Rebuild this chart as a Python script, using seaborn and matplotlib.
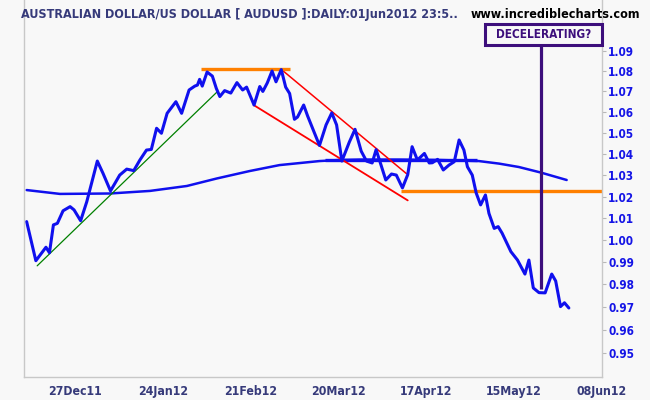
import numpy as np
import pandas as pd
import matplotlib
matplotlib.use("Agg")
import matplotlib.pyplot as plt
import seaborn as sns
from matplotlib.ticker import FixedLocator, FixedFormatter, NullLocator
from matplotlib.patches import Rectangle

# ---------------- data ----------------
title = "AUSTRALIAN DOLLAR/US DOLLAR [ AUDUSD ]:DAILY:01Jun2012 23:5.."
site = "www.incrediblecharts.com"
note = "DECELERATING?"

# trading-day offset from first bar, and close price
day = [0.0, 2.1, 4.4, 5.2, 6.1, 7.0, 8.3, 9.9, 10.8, 12.3, 13.7, 16.1, 17.4, 19.1,
       20.1, 21.2, 22.8, 24.4, 25.8, 27.3, 28.4, 29.6, 30.7, 32.0, 34.0, 35.3,
       37.0, 38.3, 38.9, 39.4, 40.0, 41.1, 42.3, 43.2, 44.0, 45.1, 46.5, 47.9,
       49.2, 50.1, 51.8, 53.1, 53.8, 54.8, 55.9, 56.8, 58.0, 59.0, 59.9, 61.0,
       61.7, 63.1, 64.0, 66.7, 68.2, 69.5, 70.6, 71.8, 73.5, 74.8, 76.2, 77.4,
       78.7, 79.6, 80.8, 81.8, 83.1, 84.2, 85.6, 86.8, 87.8, 89.0, 90.6, 91.7,
       92.4, 93.6, 94.9, 96.2, 97.4, 98.5, 99.6, 100.4, 101.5, 102.4, 103.4,
       104.5, 105.3, 106.5, 107.4, 108.3, 110.3, 111.8, 113.5, 114.4, 115.4,
       116.7, 118.1, 119.6, 120.5, 121.6, 122.5, 123.5]
close = [1.0084, 0.9906, 0.9967, 0.9942, 1.0069, 1.0076, 1.0134, 1.0153, 1.0138,
         1.0088, 1.0176, 1.0366, 1.0308, 1.0226, 1.0261, 1.0300, 1.0328, 1.0321,
         1.0371, 1.0418, 1.0421, 1.0522, 1.0498, 1.0594, 1.0650, 1.0594, 1.0707,
         1.0726, 1.0731, 1.0759, 1.0726, 1.0795, 1.0775, 1.0715, 1.0675, 1.0704,
         1.0692, 1.0743, 1.0707, 1.0721, 1.0634, 1.0724, 1.0700, 1.0741, 1.0800,
         1.0747, 1.0807, 1.0721, 1.0690, 1.0565, 1.0576, 1.0634, 1.0581, 1.0440,
         1.0538, 1.0596, 1.0538, 1.0366, 1.0456, 1.0517, 1.0413, 1.0366, 1.0357,
         1.0420, 1.0342, 1.0277, 1.0305, 1.0300, 1.0240, 1.0302, 1.0434, 1.0371,
         1.0402, 1.0357, 1.0358, 1.0374, 1.0324, 1.0347, 1.0363, 1.0466, 1.0418,
         1.0339, 1.0300, 1.0216, 1.0161, 1.0207, 1.0122, 1.0053, 1.0061, 1.0031,
         0.9947, 0.9909, 0.9846, 0.9909, 0.9784, 0.9763, 0.9762, 0.9846, 0.9815,
         0.9701, 0.9718, 0.9695]

# moving average
ma_day = [0.0, 7.6, 19.0, 28.1, 36.5, 43.3, 50.8, 57.6, 66.7, 71.2, 75.8, 84.9,
          94.0, 103.0, 107.6, 112.1, 117.1, 123.0]
ma = [1.0230, 1.0212, 1.0214, 1.0226, 1.0249, 1.0284, 1.0319, 1.0347, 1.0366,
      1.0371, 1.0373, 1.0373, 1.0371, 1.0366, 1.0354, 1.0338, 1.0312, 1.0277]

tick_days = [11, 31, 51, 71, 91, 111, 131]
tick_labels = ["27Dec11", "24Jan12", "21Feb12", "20Mar12", "17Apr12", "15May12", "08Jun12"]
price_ticks = [0.95, 0.96, 0.97, 0.98, 0.99, 1.00, 1.01, 1.02, 1.03, 1.04,
               1.05, 1.06, 1.07, 1.08, 1.09]

# drawn trend lines
green_x, green_y = [2.4, 43.3], [0.9883, 1.0696]
resist_x, resist_y = [39.8, 60.1], [1.0808, 1.0808]
support_x, support_y = [85.3, 131.0], [1.0226, 1.0226]
chan_up_x, chan_up_y = [58.0, 86.5], [1.0808, 1.0307]
chan_lo_x, chan_lo_y = [51.7, 86.8], [1.0634, 1.0182]
flat_x, flat_y = [68.0, 102.6], [1.0371, 1.0371]
marker_day, marker_lo, marker_hi = 117.2, 0.9777, 1.0930

# ---------------- styling ----------------
sns.set_style("white")
BG = "#f8f8f8"
BLUE = "#1010ee"
PURPLE = "#3d0f7c"
NAVY = "#363a7a"

fig = plt.figure(figsize=(6.5, 4.0), dpi=100, facecolor=BG)
ax = fig.add_axes([24 / 650, 23 / 400, 578 / 650, 377 / 400])
ax.set_facecolor(BG)

df_price = pd.DataFrame({"day": day, "close": close})
df_ma = pd.DataFrame({"day": ma_day, "ma": ma})

sns.lineplot(data=df_ma, x="day", y="ma", ax=ax, color=BLUE, lw=1.8,
             sort=False, estimator=None)
ax.plot(flat_x, flat_y, color=BLUE, lw=2.4, solid_capstyle="butt")
ax.plot(green_x, green_y, color="#008000", lw=0.9)
ax.plot(chan_up_x, chan_up_y, color="#ff0000", lw=1.1)
ax.plot(chan_lo_x, chan_lo_y, color="#ff0000", lw=1.3)
ax.plot(resist_x, resist_y, color="#ff8000", lw=2.4, solid_capstyle="butt")
ax.plot(support_x, support_y, color="#ff8000", lw=2.4, solid_capstyle="butt")
sns.lineplot(data=df_price, x="day", y="close", ax=ax, color=BLUE, lw=2.2,
             sort=False, estimator=None)
ax.vlines(marker_day, marker_lo, marker_hi, color=PURPLE, lw=2.3)

ax.set_yscale("log")
ax.set_ylim(0.9395, 1.1155)
ax.set_xlim(-0.6, 131.05)

ax.yaxis.set_major_locator(FixedLocator(price_ticks))
ax.yaxis.set_major_formatter(FixedFormatter([f"{p:.2f}" for p in price_ticks]))
ax.yaxis.set_minor_locator(NullLocator())
ax.yaxis.tick_right()
ax.set_xticks(tick_days)
ax.set_xticklabels(tick_labels)
ax.set_xlabel("")
ax.set_ylabel("")

ax.tick_params(axis="y", which="major", direction="out", length=3, width=0.8,
               color="#b8b8b8", labelcolor="#1515e6", labelsize=8.5, pad=1.5)
ax.tick_params(axis="x", which="major", direction="out", length=3, width=0.8,
               color="#b8b8b8", labelcolor=NAVY, labelsize=8.8, pad=3)
for lbl in ax.get_xticklabels() + ax.get_yticklabels():
    lbl.set_fontweight("bold")
    lbl.set_fontstretch("condensed")

for side in ["left", "bottom", "right"]:
    ax.spines[side].set_color("#c8c8c8")
    ax.spines[side].set_linewidth(1.0)
ax.spines["top"].set_visible(False)
ax.grid(False)

fig.text(21 / 650, 1 - 18 / 400, title, color=NAVY, fontsize=9, fontweight="bold",
         fontstretch="condensed", ha="left", va="baseline")
fig.text(640 / 650, 1 - 18 / 400, site, color="black", fontsize=9, fontweight="bold",
         fontstretch="condensed", ha="right", va="baseline")

fig.patches.append(Rectangle((485 / 650, 1 - 44.6 / 400), 117 / 650, 20.8 / 400,
                             transform=fig.transFigure, facecolor=BG,
                             edgecolor=PURPLE, lw=2.2, zorder=5))
fig.text(543.5 / 650, 1 - 34.5 / 400, note, color=PURPLE, fontsize=8.5,
         fontweight="bold", fontstretch="condensed", ha="center", va="center",
         zorder=6)

fig.savefig("out.png", dpi=100, facecolor=fig.get_facecolor())
